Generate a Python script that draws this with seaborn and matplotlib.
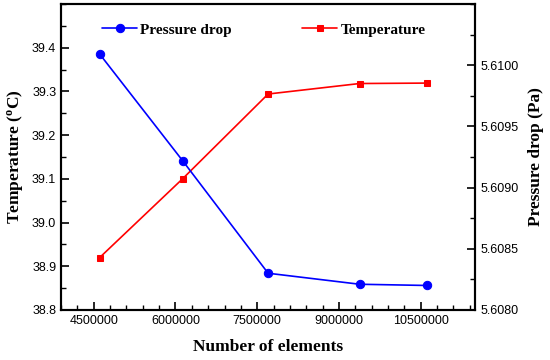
import matplotlib
matplotlib.use("Agg")
import matplotlib.pyplot as plt
import seaborn as sns
import pandas as pd
from matplotlib.ticker import MultipleLocator, FixedLocator

elements = [4610000, 6130000, 7700000, 9380000, 10620000]
pressure_drop = [5.61009, 5.60922, 5.60830, 5.60821, 5.60820]
temperature = [38.92, 39.10, 39.294, 39.318, 39.319]
x_ticks = [4500000, 6000000, 7500000, 9000000, 10500000]

sns.set_style("ticks")
plt.rcParams['font.family'] = ['Liberation Sans', 'DejaVu Sans']
plt.rcParams['text.color'] = 'black'
plt.rcParams['axes.labelcolor'] = 'black'
plt.rcParams['xtick.color'] = 'black'
plt.rcParams['ytick.color'] = 'black'
plt.rcParams['mathtext.fontset'] = 'custom'
plt.rcParams['mathtext.rm'] = 'Liberation Serif:bold'
plt.rcParams['mathtext.it'] = 'Liberation Serif:bold'
plt.rcParams['mathtext.bf'] = 'Liberation Serif:bold'

df = pd.DataFrame({"elements": elements, "pressure": pressure_drop, "temperature": temperature})

fig, ax = plt.subplots(figsize=(5.5, 3.6), dpi=100)
fig.subplots_adjust(left=0.111, right=0.864, top=0.989, bottom=0.139)
ax2 = ax.twinx()

sns.lineplot(data=df, x="elements", y="temperature", ax=ax, color="#ff0000", marker="s",
             markersize=5, markeredgecolor="#ff0000", linewidth=1.2, label="Temperature", legend=False)
sns.lineplot(data=df, x="elements", y="pressure", ax=ax2, color="#0000ff", marker="o",
             markersize=6, markeredgecolor="#0000ff", linewidth=1.2, label="Pressure drop", legend=False)

ax.set_xlim(3900000, 11500000)
ax.set_ylim(38.8, 39.5)
ax2.set_ylim(5.6080, 5.6105)

ax.xaxis.set_major_locator(FixedLocator(x_ticks))
ax.xaxis.set_minor_locator(MultipleLocator(300000))
ax.set_xticklabels([str(v) for v in x_ticks])
l_ticks = [38.8, 38.9, 39.0, 39.1, 39.2, 39.3, 39.4]
ax.yaxis.set_major_locator(FixedLocator(l_ticks))
ax.yaxis.set_minor_locator(MultipleLocator(0.05))
ax.set_yticklabels([f"{v:.1f}" for v in l_ticks])
r_ticks = [5.6080, 5.6085, 5.6090, 5.6095, 5.6100]
ax2.yaxis.set_major_locator(FixedLocator(r_ticks))
ax2.yaxis.set_minor_locator(MultipleLocator(0.00025))
ax2.set_yticklabels([f"{v:.4f}" for v in r_ticks])

for a in (ax, ax2):
    a.tick_params(which="major", direction="in", length=6, width=1.2, labelsize=9,
                  colors="black", labelcolor="black")
    a.tick_params(which="minor", direction="in", length=3.5, width=1.0, colors="black")
    for s in a.spines.values():
        s.set_linewidth(1.5)
        s.set_color("black")
ax.tick_params(axis="both", which="both", top=False, right=False)
ax2.tick_params(axis="y", which="both", left=False, right=True)

lab_font = dict(family="Liberation Serif", fontweight="bold", fontsize=12.5, color="black")
ax.set_xlabel("Number of elements", labelpad=9, **lab_font)
ax.set_ylabel("Temperature ($^{o}$C)", labelpad=5, **lab_font)
ax2.set_ylabel("Pressure drop (Pa)", labelpad=7, **lab_font)

h1, l1 = ax2.get_legend_handles_labels()
h2, l2 = ax.get_legend_handles_labels()
leg = ax.legend(h1 + h2, l1 + l2, loc="center left", bbox_to_anchor=(0.099, 0.915), ncol=2,
                frameon=False, borderaxespad=0, borderpad=0, handlelength=2.3, handletextpad=0.2,
                columnspacing=4.6, prop=dict(family="Liberation Serif", weight="bold", size=11))
for t in leg.get_texts():
    t.set_color("black")

fig.savefig("out.png", dpi=100)
